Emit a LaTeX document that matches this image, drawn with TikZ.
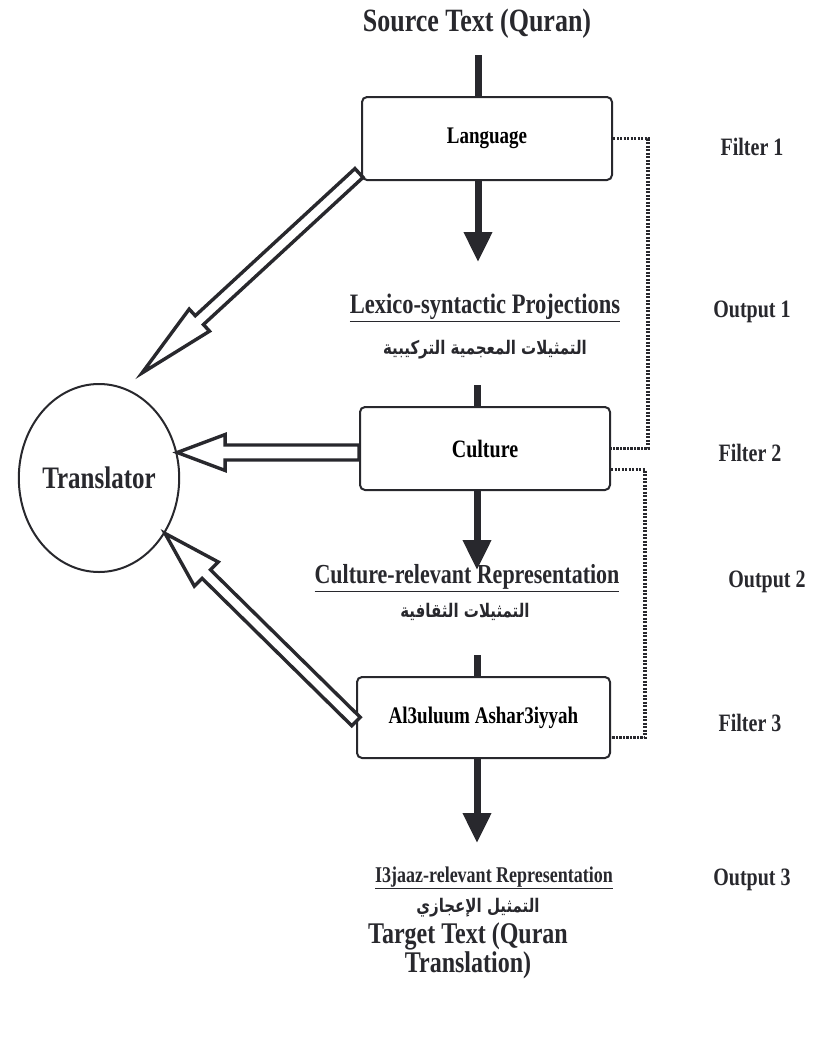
\documentclass[tikz,border=0pt]{standalone}
\usepackage{graphicx}
\usepackage{fontspec}
\setmainfont{Liberation Serif}
\newfontfamily\arabicfont[Script=Arabic]{DejaVu Sans}
\TeXXeTstate=1
\usetikzlibrary{calc,arrows.meta,shapes.geometric}
\definecolor{ink}{RGB}{40,40,45}
\newcommand{\tallt}[1]{\scalebox{1}[1.25]{#1}}
\newcommand{\fs}[1]{\fontsize{#1}{#1}\selectfont\bfseries}
% hollow arrow: from, to, half shaft width, half head width, head length
\newcommand{\hollowarrow}[5]{%
  \coordinate (ha) at ($(#2)!#5!(#1)$);
  \draw[hollow] ($(#1)!#3!90:(#2)$) -- ($(ha)!#3!-90:(#1)$) -- ($(ha)!#4!-90:(#1)$) -- (#2)
     -- ($(ha)!#4!90:(#1)$) -- ($(ha)!#3!90:(#1)$) -- ($(#1)!#3!-90:(#2)$) -- cycle;}
\begin{document}
\begin{tikzpicture}[x=1pt,y=-1pt,
  box/.style={draw=ink, line width=2pt, rounded corners=5pt, minimum width=250pt, minimum height=83pt, inner sep=0pt, fill=white},
  lbl/.style={text=ink, inner sep=0pt},
  thick arrow/.style={draw=ink, line width=7pt, -{Triangle[width=27pt,length=30pt]}},
  stub/.style={draw=ink, line width=7pt},
  hollow/.style={draw=ink, line width=3.4pt, fill=white, line join=miter},
  dots/.style={draw=ink, line width=3.4pt, dash pattern=on 2.2pt off 1.3pt}]
\useasboundingbox (0,0) rectangle (823,1050);
\fill[white] (0,0) rectangle (823,1050);

% texts of the main column
\node[lbl, font=\fs{26}] (src) at (477,24) {\tallt{Source Text (Quran)}};
\node[box, font=\fs{19}] (lang) at (487,138.5) {\tallt{Language}};
\node[lbl, font=\fs{22.5}] (lex) at (485,308) {\tallt{\underline{Lexico-syntactic Projections}}};
\node[lbl, font=\arabicfont\bfseries\fontsize{15}{15}\selectfont] (lexar) at (485,350) {\tallt{\beginR التمثيلات المعجمية التركيبية\endR}};
\node[box, font=\fs{20}] (cult) at (485,448.5) {\tallt{Culture}};
\node[lbl, font=\fs{22}] (cultrel) at (467,578) {\tallt{\underline{Culture-relevant Representation}}};
\node[lbl, font=\arabicfont\bfseries\fontsize{15}{15}\selectfont] (cultar) at (465,612) {\tallt{\beginR التمثيلات الثقافية\endR}};
\node[box, font=\fs{19}, minimum width=253pt, minimum height=81pt] (al) at (483.5,717.5) {\tallt{Al3uluum Ashar3iyyah}};
\node[lbl, font=\fs{18}] (ijaz) at (494,878) {\tallt{\underline{I3jaaz-relevant Representation}}};
\node[lbl, font=\arabicfont\bfseries\fontsize{15}{15}\selectfont] (ijazar) at (478,908) {\tallt{\beginR التمثيل الإعجازي\endR}};
\node[lbl, font=\fs{24}, align=center] (tgt) at (468,951) {\tallt{Target Text (Quran}\\[1pt]\tallt{Translation)}};

% translator
\node[draw=ink, line width=2pt, ellipse, minimum width=148pt, minimum height=188pt, inner sep=0pt, font=\fs{25}, text=ink] (trans) at (99,478) {\tallt{Translator}};

% right labels
\node[lbl, font=\fs{20}] (f1) at (752,147) {\tallt{Filter 1}};
\node[lbl, font=\fs{20}] (o1) at (752,312) {\tallt{Output 1}};
\node[lbl, font=\fs{20}] (f2) at (750,453) {\tallt{Filter 2}};
\node[lbl, font=\fs{20}] (o2) at (767,582) {\tallt{Output 2}};
\node[lbl, font=\fs{20}] (f3) at (750,723) {\tallt{Filter 3}};
\node[lbl, font=\fs{20}] (o3) at (752,880) {\tallt{Output 3}};

% vertical flow
\coordinate (s1) at (478,55);
\draw[stub] (s1) -- (s1 |- lang.north);
\coordinate (t1) at (478,262);
\draw[thick arrow] (t1 |- lang.south) -- (t1);
\coordinate (s2) at (477,385);
\draw[stub] (s2) -- (s2 |- cult.north);
\coordinate (t2) at (477,570);
\draw[thick arrow] (t2 |- cult.south) -- (t2);
\coordinate (s3) at (477,655);
\draw[stub] (s3) -- (s3 |- al.north);
\coordinate (t3) at (477,843);
\draw[thick arrow] (t3 |- al.south) -- (t3);

% dotted filter links
\draw[dots] (lang.east) -- ++(35,0) |- (cult.east);
\draw[dots] ($(cult.east)+(0,21)$) -- ++(34,0) |- ($(al.east)+(0,20)$);

% hollow arrows to translator
\coordinate (a1) at ($(lang.south west)+(-2,-8)$);
\coordinate (b1) at (142,373);
\hollowarrow{a1}{b1}{6pt}{15pt}{78pt}
\coordinate (a2) at ($(cult.west)+(0,4)$);
\coordinate (b2) at ($(cult.west -| trans.east)+(-3,4)$);
\hollowarrow{a2}{b2}{7.5pt}{18pt}{48pt}
\coordinate (a3) at ($(al.west)+(0,4)$);
\coordinate (b3) at (trans.-40);
\hollowarrow{a3}{b3}{6pt}{17pt}{58pt}
\end{tikzpicture}
\end{document}
